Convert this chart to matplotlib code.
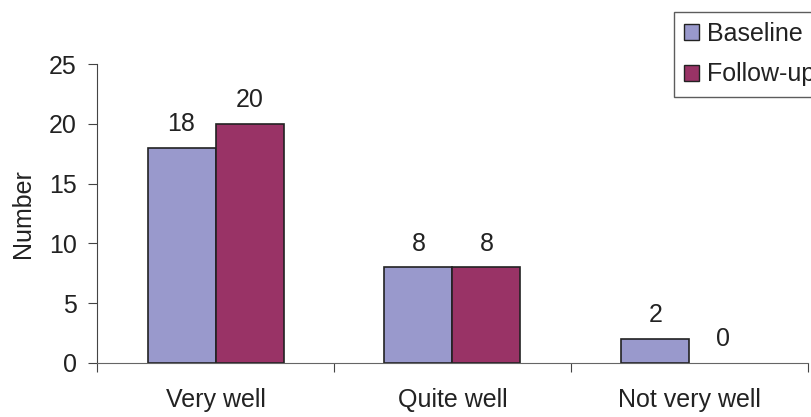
import numpy as np
import matplotlib.pyplot as plt

categories = ["Very well", "Quite well", "Not very well"]
baseline = [18, 8, 2]
follow_up = [20, 8, 0]

plt.rcParams["font.family"] = ["Liberation Sans", "DejaVu Sans"]
fs = 18

fig = plt.figure(figsize=(8.12, 4.17), dpi=100)
ax = fig.add_axes([0.1195, 0.1295, 0.8755, 0.717])

x = np.arange(len(categories))
w = 0.287
b1 = ax.bar(x - w / 2, baseline, w, color="#9999cc", edgecolor="#222222", linewidth=1.2, label="Baseline")
b2 = ax.bar(x + w / 2, follow_up, w, color="#993366", edgecolor="#222222", linewidth=1.2, label="Follow-up")

for bars in (b1, b2):
    for r in bars:
        if r.get_height() == 0:
            r.set_linewidth(0)
        ax.annotate(f"{r.get_height():g}", (r.get_x() + r.get_width() / 2, r.get_height()),
                    xytext=(0, 8.5), textcoords="offset points", ha="center", va="bottom",
                    fontsize=fs, color="#222222")

ax.set_xlim(-0.5, 2.5)
ax.set_ylim(0, 25)
ax.set_yticks([0, 5, 10, 15, 20, 25])
ax.set_xticks([-0.5, 0.5, 1.5, 2.5])
ax.set_xticklabels([])
ax.set_xticks(x, minor=True)
ax.set_xticklabels(categories, minor=True)
ax.tick_params(axis="x", which="minor", length=0, pad=18, labelsize=fs, labelcolor="#222222")
ax.tick_params(axis="x", which="major", length=6.5, direction="out", color="#444444")
ax.tick_params(axis="y", length=6.5, direction="out", color="#444444", labelsize=fs, pad=8,
               labelcolor="#222222")
ax.set_ylabel("Number", fontsize=fs, labelpad=10, color="#222222")

ax.spines["top"].set_visible(False)
ax.spines["right"].set_visible(False)
ax.spines["left"].set_color("#444444")
ax.spines["bottom"].set_color("#666666")

# legend runs off the right edge, as in the original
leg = ax.legend(loc="upper left", bbox_to_anchor=(674 / 812, 1 - 12 / 417), bbox_transform=fig.transFigure,
                fontsize=fs, frameon=True, fancybox=False, edgecolor="#333333",
                handlelength=0.6, handleheight=0.6, handletextpad=0.32, borderpad=0.4, labelspacing=0.66,
                borderaxespad=0)
leg.get_frame().set_linewidth(1.0)
for t in leg.get_texts():
    t.set_color("#222222")
for h in leg.legend_handles:
    h.set_linewidth(1.0)

fig.savefig("out.png", dpi=100)
